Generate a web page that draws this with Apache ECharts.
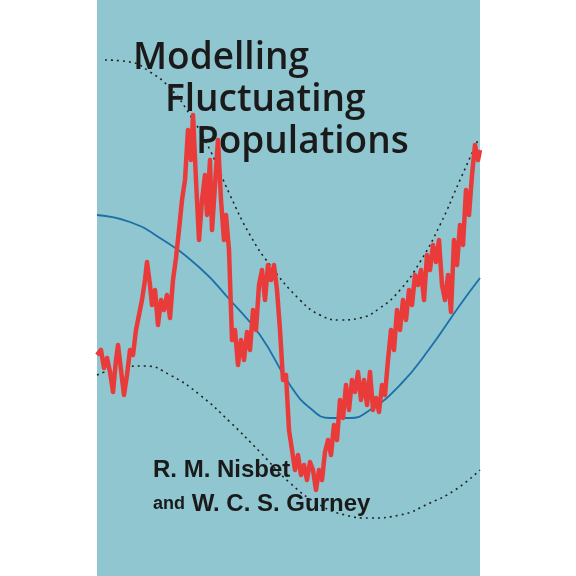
<!DOCTYPE html>
<html><head><meta charset="utf-8">
<script src="https://cdn.jsdelivr.net/npm/echarts@6/dist/echarts.min.js"></script>
<style>html,body{margin:0;background:#fff}#c{width:576px;height:576px}</style>
</head><body><div id="c"></div>
<script>
// x and y in cover pixel units (y grows downward)
const trend = [[97,215],[130,222],[160,238],[200,268],[230,300],[260,335],[290,385],[310,408],[330,418],[350,418],[370,410],[400,385],[430,348],[460,305],[480,278]];
const upper = [[105,60],[130,62],[150,72],[170,88],[190,115],[210,150],[230,195],[250,235],[270,265],[300,300],[320,315],[340,320],[360,318],[380,308],[400,290],[420,262],[440,225],[460,180],[478,140]];
const lower = [[97,375],[120,368],[145,366],[170,375],[200,395],[230,422],[260,452],[290,483],[320,505],[345,515],[370,518],[400,515],[430,503],[455,490],[480,470]];
const pop = [[97,355],[101,350],[104,368],[107,358],[110,372],[113,392],[116,360],[118,345],[121,370],[124,395],[127,375],[130,350],[133,355],[136,330],[139,315],[142,300],[145,280],[147,262],[150,285],[152,305],[155,290],[158,325],[161,300],[164,310],[167,295],[170,318],[173,280],[176,258],[179,230],[182,200],[185,180],[188,130],[191,160],[193,115],[196,180],[199,240],[202,200],[205,175],[207,215],[210,160],[212,230],[215,185],[218,140],[221,200],[224,240],[226,215],[229,250],[232,340],[235,330],[238,365],[241,340],[244,360],[247,332],[250,350],[253,310],[256,330],[259,285],[262,270],[265,300],[268,265],[271,280],[274,265],[277,290],[280,330],[283,380],[286,375],[289,430],[292,450],[295,470],[298,455],[301,475],[304,465],[307,480],[310,462],[313,470],[316,490],[319,470],[322,480],[325,452],[328,440],[331,455],[334,425],[337,440],[340,400],[343,418],[346,385],[349,410],[352,380],[355,392],[358,372],[361,400],[364,380],[367,405],[370,372],[373,410],[376,398],[379,412],[382,385],[385,395],[388,360],[391,330],[394,350],[397,310],[400,330],[403,300],[406,320],[409,290],[412,305],[415,275],[418,285],[421,270],[424,300],[427,255],[430,270],[433,245],[436,262],[439,240],[442,285],[445,300],[448,275],[451,312],[454,240],[457,265],[460,225],[463,245],[466,190],[469,215],[472,175],[475,145],[478,160],[480,150]];

const chart = echarts.init(document.getElementById('c'));
chart.setOption({
  animation:false,
  grid:{left:97,right:96,top:0,bottom:0,show:true,backgroundColor:'#8fc6cf',borderWidth:0},
  xAxis:{type:'value',min:97,max:480,show:false},
  yAxis:{type:'value',min:0,max:576,inverse:true,show:false},
  series:[
    {type:'line',data:trend,smooth:true,symbol:'none',lineStyle:{color:'#1c6fa8',width:1.8}},
    {type:'line',data:upper,smooth:true,symbol:'none',lineStyle:{color:'#222',width:1.6,type:[2,4]}},
    {type:'line',data:lower,smooth:true,symbol:'none',lineStyle:{color:'#222',width:1.6,type:[2,4]}},
    {type:'line',data:pop,symbol:'none',lineStyle:{color:'#ea3b3b',width:4.5,join:'round'}}
  ],
  graphic:[
    {type:'text',left:133,top:40,style:{text:'Modelling',font:'600 37px "Open Sans"',fill:'#1a1a1a'}},
    {type:'text',left:165,top:82,style:{text:'Fluctuating',font:'600 37px "Open Sans"',fill:'#1a1a1a'}},
    {type:'text',left:196,top:124,style:{text:'Populations',font:'600 37px "Open Sans"',fill:'#1a1a1a'}},
    {type:'text',left:153,top:458,style:{text:'R. M. Nisbet',font:'bold 24px "Liberation Sans"',fill:'#1a1a1a'}},
    {type:'text',left:153,top:492,style:{text:'{a|and} W. C. S. Gurney',font:'bold 24px "Liberation Sans"',fill:'#1a1a1a',
      rich:{a:{font:'bold 18px "Liberation Sans"',fill:'#1a1a1a'}}}}
  ]
});
</script></body></html>
